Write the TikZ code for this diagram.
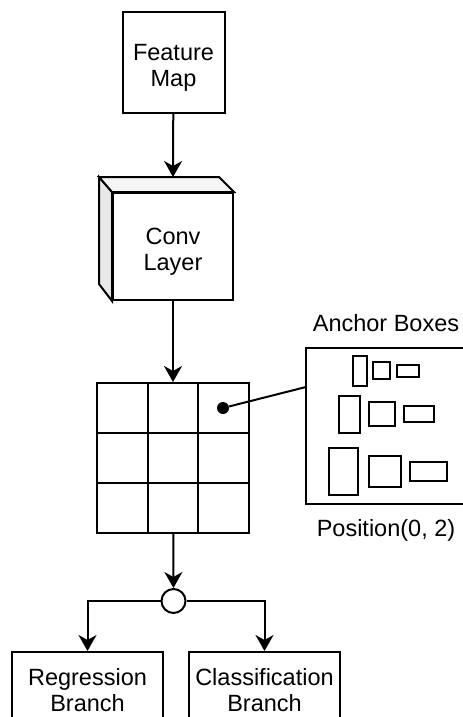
\documentclass[tikz,border=0pt]{standalone}
\usepackage{fontspec}
\setmainfont{Liberation Sans}
\usetikzlibrary{positioning,arrows.meta}

\tikzset{
  box/.style={draw,line width=1pt,fill=white,align=center,inner sep=0pt},
  arr/.style={line width=1pt,-{Stealth[length=8pt,width=9pt,inset=2.5pt]}},
  low/.style={text height=26.4pt,text depth=2.5pt},
  txt/.style={inner sep=0pt}
}

\begin{document}
\begin{tikzpicture}[x=0.5pt,y=-0.5pt,font=\fontsize{11.75pt}{13pt}\selectfont]
  \useasboundingbox (0,0) rectangle (462,717);

  \node [box,low,minimum width=51pt,minimum height=50.5pt] (fmap) at (173.5,62.5) {Feature\\Map};

  % conv layer as a block
  \node [box,low,minimum width=60pt,minimum height=53.5pt] (conv) at (173,246.5) {Conv\\Layer};
  \draw [line width=1pt,fill=black!9] (conv.north west) -- ++(-13,-15) -- ++(0,107) -- (conv.south west) -- cycle;
  \draw [line width=1pt,fill=black!4] (conv.north west) -- ++(-13,-15) -- ++(120,0) -- (conv.north east) -- cycle;
  \coordinate (convback) at ([yshift=7.5pt]conv.north);

  % 3x3 grid
  \node [box,minimum width=76pt,minimum height=75pt] (grid) at (173,458) {};
  \foreach \x in {147.7,198.3} \draw [line width=1pt] (\x,383) -- (\x,533);
  \foreach \y in {433,483} \draw [line width=1pt] (97,383) ++(0,\y-383) -- ++(152,0);
  \node [circle,fill=black,inner sep=0pt,minimum size=6pt] (cell) at (223,408) {};

  % anchors of one position
  \node [box,minimum width=80pt,minimum height=78pt] (anchors) at (386,426) {};
  \node [txt,above=7.5pt of anchors] (anctitle) {Anchor Boxes};
  \node [txt,below=7pt of anchors] (ancpos) {Position(0, 2)};
  \coordinate (hook) at (306,387);
  \foreach \a/\b/\c/\d in {353/356/367/386, 373/362/390/379, 397/365/419/377,
                           339/396/360/433, 369/402/395/426, 404/406/434/422,
                           329/448/358/495, 369/456/401/487, 410/462/447/481}
    \draw [line width=1pt] (\a,\b) rectangle (\c,\d);

  \node [circle,draw,line width=1pt,fill=white,inner sep=0pt,minimum size=12pt] (split) at (173.5,601) {};

  \node [box,minimum width=75.5pt,minimum height=38pt] (reg) at (87.5,690) {Regression\\Branch};
  \node [box,minimum width=75.5pt,minimum height=38pt] (cls) at (264.5,690) {Classification\\Branch};

  \draw [arr] (fmap) -- (convback);
  \draw [arr] (conv) -- (grid);
  \draw [line width=1pt] (cell) -- (hook);
  \draw [arr] (grid) -- (split);
  \draw [arr] (split) -| (reg);
  \draw [arr] (split) -| (cls);
\end{tikzpicture}
\end{document}
